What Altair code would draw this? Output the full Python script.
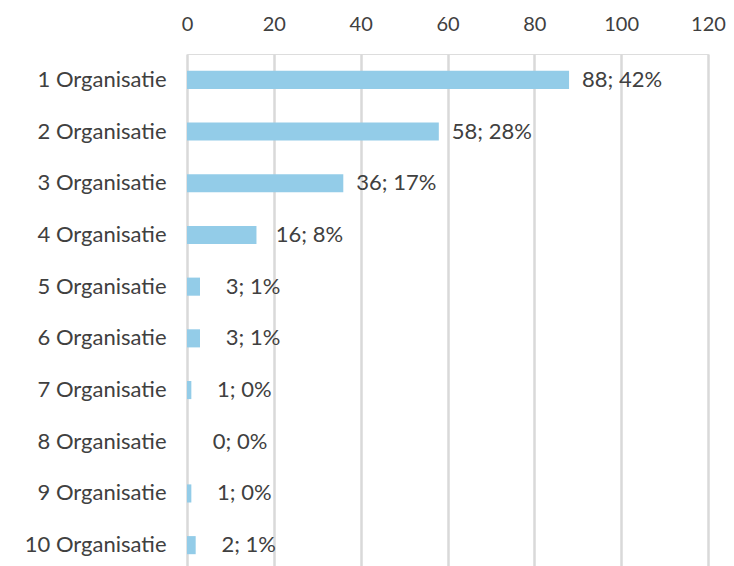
import altair as alt
import pandas as pd

organisations = ["1 Organisatie", "2 Organisatie", "3 Organisatie", "4 Organisatie",
                 "5 Organisatie", "6 Organisatie", "7 Organisatie", "8 Organisatie",
                 "9 Organisatie", "10 Organisatie"]
counts = [88, 58, 36, 16, 3, 3, 1, 0, 1, 2]
percents = [42, 28, 17, 8, 1, 1, 0, 0, 0, 1]
x_ticks = [0, 20, 40, 60, 80, 100, 120]

df = pd.DataFrame({
    "org": organisations,
    "count": counts,
    "label": [f"{c}; {p}%" for c, p in zip(counts, percents)],
})

FONT = "Lato"
FS = 22
TEXT = "#404040"

y = alt.Y("org:N", sort=organisations, title=None,
          scale=alt.Scale(paddingInner=0.65, paddingOuter=0.325),
          axis=alt.Axis(labelFont=FONT, labelFontSize=FS, labelColor=TEXT,
                        labelPadding=21, ticks=False, tickSize=0, domain=False,
                        grid=False))
x = alt.X("count:Q", title=None,
          scale=alt.Scale(domain=[0, 120], nice=False),
          axis=alt.Axis(orient="top", values=x_ticks, labelFont=FONT,
                        labelFontSize=20, labelColor=TEXT, labelPadding=20,
                        labelFlush=False, labelOverlap=False,
                        ticks=False, tickSize=0, domain=False, grid=True,
                        gridColor="#D9D9D9", gridWidth=2.5))

bars = alt.Chart(df).mark_bar(color="#93CCE8").encode(x=x, y=y)
labels = alt.Chart(df).mark_text(align="center", baseline="middle", dx=53,
                                 font=FONT, fontSize=FS, color=TEXT).encode(
    x="count:Q", y=alt.Y("org:N", sort=organisations), text="label:N")

chart = (bars + labels).properties(
    width=521, height=517,
    autosize=alt.AutoSizeParams(type="none"),
    padding={"left": 179, "top": 46, "right": 18, "bottom": 0},
).configure_view(stroke=None).configure(background="white")

chart.save("out.html", embed_options={"renderer": "svg", "actions": False})
